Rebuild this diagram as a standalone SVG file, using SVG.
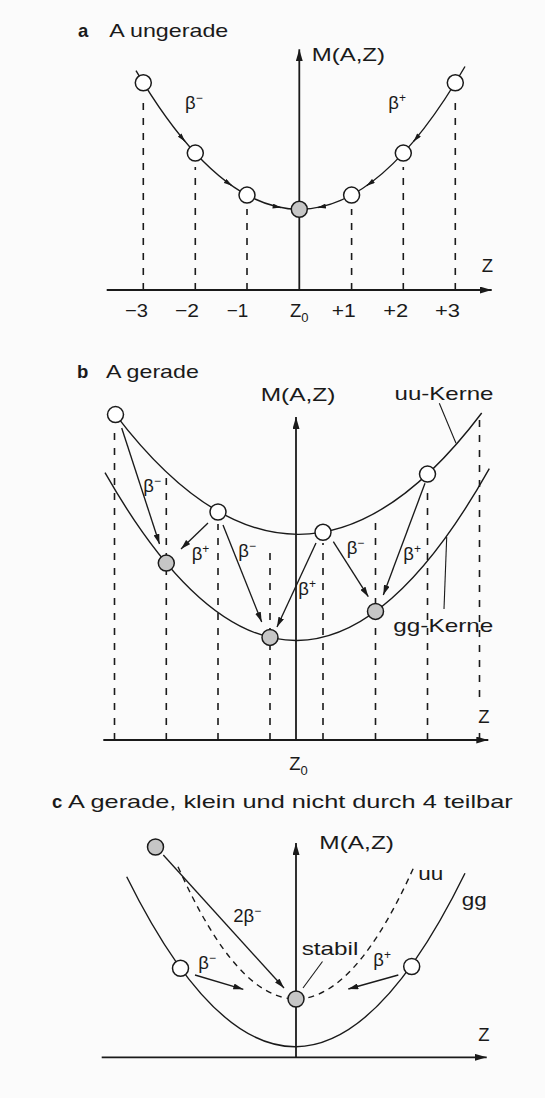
<svg xmlns="http://www.w3.org/2000/svg" width="545" height="1098" viewBox="0 0 545 1098">
<style>
 text { font-family: "Liberation Sans", Arial, sans-serif; font-size: 18.5px; fill: #1a1a1a; }
 .bold { font-weight: bold; }
 .sup { font-size: 12px; }
 .sub { font-size: 13px; }
 .axis { stroke: #1a1a1a; stroke-width: 1.8; fill: none; }
 .curve { stroke: #1a1a1a; stroke-width: 1.4; fill: none; }
 .dash { stroke: #1a1a1a; stroke-width: 1.6; stroke-dasharray: 7 8; fill: none; }
 .dcurve { stroke: #1a1a1a; stroke-width: 1.4; stroke-dasharray: 6 5; fill: none; }
 .arrow { stroke: #1a1a1a; stroke-width: 1.35; fill: none; }
 .lead { stroke: #1a1a1a; stroke-width: 1.1; fill: none; }
 .w { fill: #ffffff; stroke: #1a1a1a; stroke-width: 1.5; }
 .g { fill: #c6c6c6; stroke: #1a1a1a; stroke-width: 1.5; }
</style>
<defs>
 <marker id="ah" viewBox="0 0 10 6" refX="10" refY="3" markerWidth="10" markerHeight="6" markerUnits="userSpaceOnUse" orient="auto"><path d="M0,0 L10,3 L0,6 z" fill="#1a1a1a"/></marker>
 <marker id="ahs" viewBox="0 0 10 6" refX="10" refY="3" markerWidth="9" markerHeight="5" markerUnits="userSpaceOnUse" orient="auto"><path d="M0,0 L10,3 L0,6 z" fill="#1a1a1a"/></marker>
 <marker id="ax" viewBox="0 0 12 7" refX="12" refY="3.5" markerWidth="12" markerHeight="7" markerUnits="userSpaceOnUse" orient="auto"><path d="M0,0 L12,3.5 L0,7 z" fill="#1a1a1a"/></marker>
</defs>
<rect width="545" height="1098" fill="#fbfbfb"/>

<g id="connectors">
 <!-- panel a -->
 <path class="axis" d="M106.7,290 L491.7,290" marker-end="url(#ax)"/>
 <path class="axis" d="M299.3,290 L299.3,49.3" marker-end="url(#ax)"/>
 <path class="dash" d="M143.3,290 L143.3,100"/>
 <path class="dash" d="M195.3,290 L195.3,167"/>
 <path class="dash" d="M247,290 L247,209"/>
 <path class="dash" d="M351.6,290 L351.6,209"/>
 <path class="dash" d="M403.3,290 L403.3,167"/>
 <path class="dash" d="M455.3,290 L455.3,100"/>
 <path class="curve" d="M136,70.6 Q300.5,350 465,66.5"/>
 <path class="arrow" d="M181.1,136.8 L185,141.4" marker-end="url(#ahs)"/>
 <path class="arrow" d="M227.1,182.3 L232,185.7" marker-end="url(#ahs)"/>
 <path class="arrow" d="M275.1,206.5 L281,207.6" marker-end="url(#ahs)"/>
 <path class="arrow" d="M417.5,136.8 L413.6,141.4" marker-end="url(#ahs)"/>
 <path class="arrow" d="M371.5,182.3 L366.6,185.7" marker-end="url(#ahs)"/>
 <path class="arrow" d="M323.5,206.5 L317.6,207.6" marker-end="url(#ahs)"/>

 <!-- panel b -->
 <path class="axis" d="M103.3,740 L488.3,740" marker-end="url(#ax)"/>
 <path class="axis" d="M296,740 L296,417" marker-end="url(#ax)"/>
 <path class="dash" d="M114.5,740 L114.5,428"/>
 <path class="dash" d="M166.3,740 L166.3,478"/>
 <path class="dash" d="M218,740 L218,524"/>
 <path class="dash" d="M270,740 L270,545"/>
 <path class="dash" d="M323,740 L323,543"/>
 <path class="dash" d="M375.5,740 L375.5,515"/>
 <path class="dash" d="M427.5,740 L427.5,485"/>
 <path class="dash" d="M479.5,420 L479.5,702"/>
 <path class="dash" d="M479.5,740 L479.5,732"/>
 <path class="curve" d="M115.5,414.6 Q298.85,654.9 481.7,413"/>
 <path class="curve" d="M105,472.7 Q297.15,810.3 489.3,468.6"/>
 <path class="lead" d="M439.3,403.3 L456,443.3"/>
 <path class="lead" d="M446.7,537 L444,609"/>
 <path class="arrow" d="M121.7,428 L159.5,544" marker-end="url(#ah)"/>
 <path class="arrow" d="M208,523 L181,549" marker-end="url(#ah)"/>
 <path class="arrow" d="M223,525 L261.7,622" marker-end="url(#ah)"/>
 <path class="arrow" d="M316,543 L277,627" marker-end="url(#ah)"/>
 <path class="arrow" d="M333.3,541.7 L368.3,596.7" marker-end="url(#ah)"/>
 <path class="arrow" d="M425,483.3 L383.3,595" marker-end="url(#ah)"/>

 <!-- panel c -->
 <path class="axis" d="M101.7,1057.3 L486.7,1057.3" marker-end="url(#ax)"/>
 <path class="axis" d="M296,1057.3 L296,843" marker-end="url(#ax)"/>
 <path class="curve" d="M126.7,876.7 Q295.85,1218.4 465,873.3"/>
 <path class="dcurve" d="M178,866.7 Q296.5,1132.4 415,864.5"/>
 <path class="arrow" d="M163.3,855 L284,988" marker-end="url(#ah)"/>
 <path class="arrow" d="M195,975 L243.3,989.3" marker-end="url(#ah)"/>
 <path class="arrow" d="M398.3,975 L348.3,989" marker-end="url(#ah)"/>
 <path class="lead" d="M322.5,961.5 L303,988"/>
</g>

<g id="node-a-m3"><circle class="w" cx="143.3" cy="82.8" r="8"/></g>
<g id="node-a-m2"><circle class="w" cx="195.3" cy="153.1" r="8"/></g>
<g id="node-a-m1"><circle class="w" cx="247" cy="195.1" r="8"/></g>
<g id="node-a-z0"><circle class="g" cx="299.3" cy="209.3" r="8"/></g>
<g id="node-a-p1"><circle class="w" cx="351.6" cy="195.1" r="8"/></g>
<g id="node-a-p2"><circle class="w" cx="403.3" cy="153.1" r="8"/></g>
<g id="node-a-p3"><circle class="w" cx="455.3" cy="82.8" r="8"/></g>

<g id="node-b-w1"><circle class="w" cx="115.5" cy="414.6" r="8"/></g>
<g id="node-b-g1"><circle class="g" cx="166.3" cy="563.1" r="8"/></g>
<g id="node-b-w2"><circle class="w" cx="218" cy="512" r="8"/></g>
<g id="node-b-g2"><circle class="g" cx="270" cy="637.4" r="8"/></g>
<g id="node-b-w3"><circle class="w" cx="323" cy="532.3" r="8"/></g>
<g id="node-b-g3"><circle class="g" cx="375.5" cy="611.4" r="8"/></g>
<g id="node-b-w4"><circle class="w" cx="427.5" cy="474.1" r="8"/></g>

<g id="node-c-g-top"><circle class="g" cx="155.5" cy="847" r="8"/></g>
<g id="node-c-w-left"><circle class="w" cx="180.5" cy="968.3" r="8"/></g>
<g id="node-c-stabil"><circle class="g" cx="296" cy="999" r="8"/></g>
<g id="node-c-w-right"><circle class="w" cx="411.7" cy="966.5" r="8"/></g>

<g id="labels-a">
 <text class="bold" x="78" y="36.5">a</text>
 <text x="109.3" y="36.5" textLength="119" lengthAdjust="spacingAndGlyphs">A ungerade</text>
 <text x="311.7" y="60.5" textLength="73.3" lengthAdjust="spacingAndGlyphs">M(A,Z)</text>
 <text x="185" y="108.5">β<tspan class="sup" dy="-7">−</tspan></text>
 <text x="388.3" y="108.5">β<tspan class="sup" dy="-7">+</tspan></text>
 <text x="481.7" y="271.7">Z</text>
 <text x="125" y="317.3" textLength="23" lengthAdjust="spacingAndGlyphs">−3</text>
 <text x="175" y="317.3" textLength="24" lengthAdjust="spacingAndGlyphs">−2</text>
 <text x="226.7" y="317.3" textLength="21.5" lengthAdjust="spacingAndGlyphs">−1</text>
 <text x="290" y="317.3">Z<tspan class="sub" dy="5">0</tspan></text>
 <text x="331.7" y="317.3" textLength="24" lengthAdjust="spacingAndGlyphs">+1</text>
 <text x="383.3" y="317.3" textLength="25" lengthAdjust="spacingAndGlyphs">+2</text>
 <text x="435" y="317.3" textLength="25" lengthAdjust="spacingAndGlyphs">+3</text>
</g>

<g id="labels-b">
 <text class="bold" x="77" y="378">b</text>
 <text x="106" y="378" textLength="92.8" lengthAdjust="spacingAndGlyphs">A gerade</text>
 <text x="260.7" y="401" textLength="74.7" lengthAdjust="spacingAndGlyphs">M(A,Z)</text>
 <text x="394.5" y="400" textLength="99" lengthAdjust="spacingAndGlyphs">uu-Kerne</text>
 <text x="393.3" y="632" textLength="100" lengthAdjust="spacingAndGlyphs">gg-Kerne</text>
 <text x="143.3" y="491.5">β<tspan class="sup" dy="-7">−</tspan></text>
 <text x="191.7" y="560">β<tspan class="sup" dy="-7">+</tspan></text>
 <text x="238.3" y="557">β<tspan class="sup" dy="-7">−</tspan></text>
 <text x="298.3" y="595">β<tspan class="sup" dy="-7">+</tspan></text>
 <text x="346.7" y="553.5">β<tspan class="sup" dy="-7">−</tspan></text>
 <text x="403.3" y="560">β<tspan class="sup" dy="-7">+</tspan></text>
 <text x="478.3" y="723.3">Z</text>
 <text x="289.3" y="770">Z<tspan class="sub" dy="5">0</tspan></text>
</g>

<g id="labels-c">
 <text class="bold" x="52" y="808">c</text>
 <text x="68" y="808" textLength="444.7" lengthAdjust="spacingAndGlyphs">A gerade, klein und nicht durch 4 teilbar</text>
 <text x="319.3" y="848.5" textLength="74.7" lengthAdjust="spacingAndGlyphs">M(A,Z)</text>
 <text x="418.3" y="880" textLength="25" lengthAdjust="spacingAndGlyphs">uu</text>
 <text x="461.7" y="906" textLength="25" lengthAdjust="spacingAndGlyphs">gg</text>
 <text x="233.3" y="922">2β<tspan class="sup" dy="-7">−</tspan></text>
 <text x="198.3" y="968.5">β<tspan class="sup" dy="-7">−</tspan></text>
 <text x="301.7" y="955" textLength="56.7" lengthAdjust="spacingAndGlyphs">stabil</text>
 <text x="373.3" y="965.5">β<tspan class="sup" dy="-7">+</tspan></text>
 <text x="478.3" y="1040.7">Z</text>
</g>
</svg>
